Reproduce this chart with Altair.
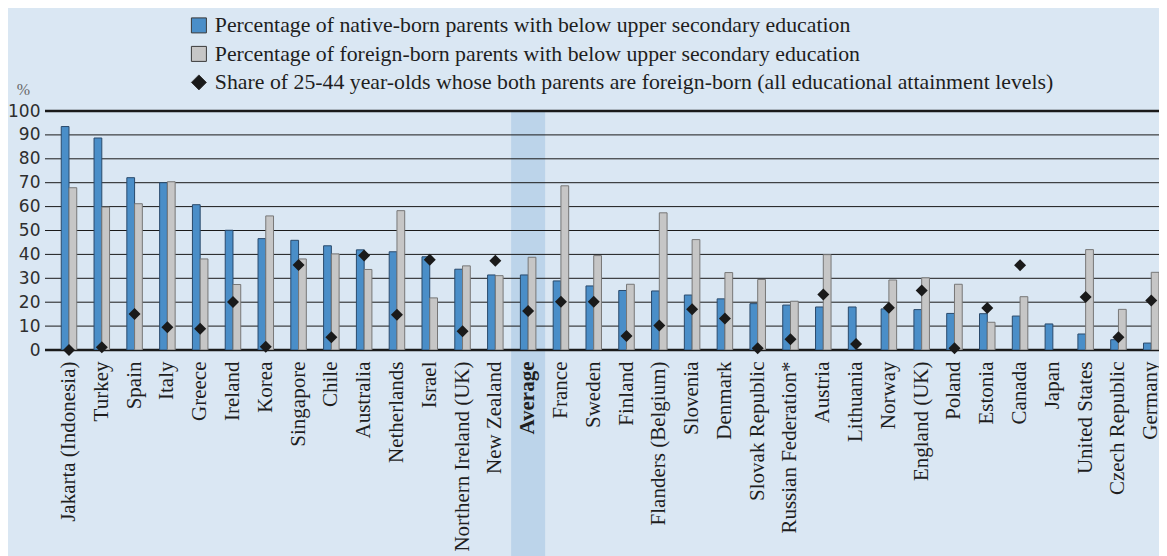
import altair as alt
import pandas as pd

countries = ["Jakarta (Indonesia)", "Turkey", "Spain", "Italy", "Greece", "Ireland", "Korea",
             "Singapore", "Chile", "Australia", "Netherlands", "Israel", "Northern Ireland (UK)",
             "New Zealand", "Average", "France", "Sweden", "Finland", "Flanders (Belgium)",
             "Slovenia", "Denmark", "Slovak Republic", "Russian Federation*", "Austria",
             "Lithuania", "Norway", "England (UK)", "Poland", "Estonia", "Canada", "Japan",
             "United States", "Czech Republic", "Germany"]
native = [93.5, 88.7, 72.1, 70.0, 60.8, 50.1, 46.6, 45.9, 43.6, 41.9, 41.1, 39.0, 33.8, 31.4,
          31.4, 28.9, 26.8, 24.9, 24.7, 23.0, 21.4, 19.4, 18.8, 18.0, 18.0, 17.2, 16.9, 15.3,
          15.2, 14.2, 10.9, 6.7, 4.3, 2.9]
foreign = [67.9, 59.8, 61.2, 70.4, 38.1, 27.4, 56.1, 38.1, 40.2, 33.7, 58.3, 21.8, 35.2, 31.1,
           38.8, 68.7, 39.5, 27.5, 57.4, 46.2, 32.4, 29.5, 20.4, 39.9, None, 29.3, 30.2, 27.5,
           11.6, 22.3, None, 42.0, 17.0, 32.5]
share = [0.0, 1.1, 15.1, 9.5, 8.9, 20.1, 1.4, 35.6, 5.3, 39.5, 14.8, 37.8, 7.8, 37.3, 16.3,
         20.2, 20.2, 5.9, 10.2, 17.0, 13.2, 0.7, 4.5, 23.2, 2.5, 17.7, 24.9, 0.7, 17.6, 35.5,
         None, 22.2, 5.3, 20.7]
y_ticks = [0, 10, 20, 30, 40, 50, 60, 70, 80, 90, 100]

S1 = "Percentage of native-born parents with below upper secondary education"
S2 = "Percentage of foreign-born parents with below upper secondary education"
S3 = "Share of 25-44 year-olds whose both parents are foreign-born (all educational attainment levels)"
series_all = [S1, S2, S3]

rows = []
for c, n, f in zip(countries, native, foreign):
    if n is not None:
        rows.append({"country": c, "series": S1, "value": n})
    if f is not None:
        rows.append({"country": c, "series": S2, "value": f})
bars_df = pd.DataFrame(rows)
pts_df = pd.DataFrame([{"country": c, "series": S3, "value": s}
                       for c, s in zip(countries, share) if s is not None])
grid_df = pd.DataFrame({"value": y_ticks})
frame_df = pd.DataFrame({"value": [0, 100]})
hl_df = pd.DataFrame({"country": ["Average"]})

SERIF = "Liberation Serif"
W, H = 1114, 239

x_scale = alt.Scale(domain=countries, paddingInner=0.527, paddingOuter=0.2477, align=1)
x_axis = alt.Axis(title=None, labelAngle=-90, labelFont=SERIF, labelFontSize=21,
                  labelColor="#1e1e1e", labelPadding=11, ticks=False, domain=False,
                  labelLimit=400, zindex=2,
                  labelFontWeight=alt.condition("datum.value === 'Average'",
                                                alt.value("bold"), alt.value("normal")))
y_scale = alt.Scale(domain=[0, 100], nice=False)
y_axis = alt.Axis(title="%", values=y_ticks, grid=False, domain=False, ticks=False,
                  labelFont="DejaVu Sans", labelFontSize=17, labelColor="#2e2e2e",
                  labelPadding=5, titleAngle=0, titleFont=SERIF, titleFontSize=16,
                  titleColor="#666666", titleFontWeight="normal", titleX=-22, titleY=-22,
                  titleAlign="center", titleBaseline="middle")

X = alt.X("country:N", sort=countries, scale=x_scale, axis=x_axis)
Y = alt.Y("value:Q", scale=y_scale, axis=y_axis)

color_scale = alt.Scale(domain=series_all, range=["#4a8ec8", "#c6c6c6", "#1a1a1a"])
shape_scale = alt.Scale(domain=series_all, range=["square", "square", "diamond"])
legend = alt.Legend(title=None, orient="none", legendX=143, legendY=-96.5, direction="vertical",
                    symbolSize=225, labelFont=SERIF, labelFontSize=21.8, labelColor="#1e1e1e",
                    labelLimit=1000, rowPadding=5.5, labelOffset=5, symbolStrokeColor="#3a3a3a",
                    symbolStrokeWidth=1, padding=0)

highlight = alt.Chart(hl_df).mark_bar(width=34, color="#bcd4ea", clip=False).encode(
    x=X, y=alt.datum(100, scale=y_scale, axis=y_axis), y2=alt.value(445)
)

grid = alt.Chart(grid_df).mark_rule(color="#1a1a1a", strokeWidth=1).encode(y=Y)
frame = alt.Chart(frame_df).mark_rule(color="#1a1a1a", strokeWidth=2.5).encode(y=Y)

bars = alt.Chart(bars_df).mark_bar(strokeWidth=1, clip=True).encode(
    x=X,
    xOffset=alt.XOffset("series:N", sort=[S1, S2],
                        scale=alt.Scale(domain=[S1, S2], paddingInner=0, paddingOuter=0)),
    y=Y,
    color=alt.Color("series:N", scale=color_scale, legend=legend),
    stroke=alt.condition(f"datum.series === '{S1}'", alt.value("#2a4a6c"), alt.value("#777777")),
)

points = alt.Chart(pts_df).mark_point(filled=True, size=144, opacity=1).encode(
    x=X,
    y=Y,
    color=alt.Color("series:N", scale=color_scale, legend=legend),
    shape=alt.Shape("series:N", scale=shape_scale, legend=legend),
)

chart = alt.layer(highlight, grid, frame, bars, points).properties(
    width=W, height=H,
    autosize=alt.AutoSizeParams(type="none"),
    padding={"left": 37, "top": 103, "right": 0, "bottom": 206},
    background="#dae7f3",
).configure_view(stroke=None)

chart.save("out.html", embed_options={"renderer": "svg", "actions": False})
